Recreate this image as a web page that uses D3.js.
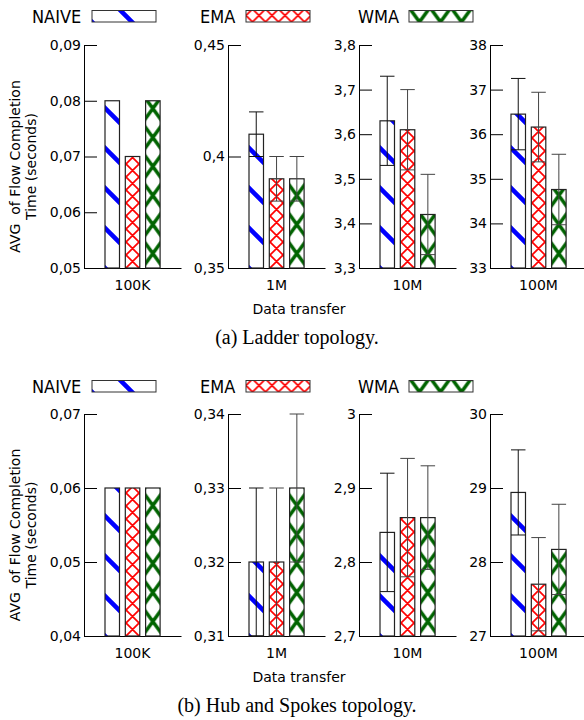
<!DOCTYPE html>
<html>
<head>
<meta charset="utf-8">
<script src="https://cdn.jsdelivr.net/npm/d3@7"></script>
<style>
body { margin: 0; background: #fff; }
svg { display: block; }
</style>
</head>
<body>
<script>
/*--- data ---*/
const categories = ["100K", "1M", "10M", "100M"];
const seriesNames = ["NAIVE", "EMA", "WMA"];

// (a) ladder topology
const ladderNaive = [0.08, 0.41, 3.63, 36.45];
const ladderEma   = [0.07, 0.39, 3.61, 36.16];
const ladderWma   = [0.08, 0.39, 3.42, 34.76];
const ladderNaiveErr = [0, 0.01, 0.10, 0.80];
const ladderEmaErr   = [0, 0.01, 0.09, 0.78];
const ladderWmaErr   = [0, 0.01, 0.09, 0.79];
const ladderTicks = [
  [0.05, 0.06, 0.07, 0.08, 0.09],
  [0.35, 0.4, 0.45],
  [3.3, 3.4, 3.5, 3.6, 3.7, 3.8],
  [33, 34, 35, 36, 37, 38]
];

// (b) hub and spokes topology
const hubNaive = [0.06, 0.32, 2.84, 28.94];
const hubEma   = [0.06, 0.32, 2.86, 27.70];
const hubWma   = [0.06, 0.33, 2.86, 28.17];
const hubNaiveErr = [0, 0.01, 0.08, 0.575];
const hubEmaErr   = [0, 0.01, 0.08, 0.63];
const hubWmaErr   = [0, 0.01, 0.07, 0.61];
const hubTicks = [
  [0.04, 0.05, 0.06, 0.07],
  [0.31, 0.32, 0.33, 0.34],
  [2.7, 2.8, 2.9, 3],
  [27, 28, 29, 30]
];

/*--- layout ---*/
let width = 584, height = 720;
let panelX = [84, 228, 359, 490];
let panelW = 97;
let sansFont = "'DejaVu Sans', sans-serif";

let blocks = [
  { id: "a", top: 45, bottom: 268, legendY: 16,
    vals: [ladderNaive, ladderEma, ladderWma],
    errs: [ladderNaiveErr, ladderEmaErr, ladderWmaErr],
    ticks: ladderTicks, caption: "(a) Ladder topology." },
  { id: "b", top: 414, bottom: 636, legendY: 386,
    vals: [hubNaive, hubEma, hubWma],
    errs: [hubNaiveErr, hubEmaErr, hubWmaErr],
    ticks: hubTicks, caption: "(b) Hub and Spokes topology." }
];

// hatch styles for each series
let hatch = {
  NAIVE: { color: "#0000ff", w: 40, h: 40, sw: 4.5, cross: false },
  EMA:   { color: "#ff0000", w: 13, h: 13, sw: 1.7, cross: true },
  WMA:   { color: "#006400", w: 21, h: 29, sw: 3.5, cross: true }
};

let fmt = d => String(d).replace(".", ",");

let svg = d3.select("body").append("svg")
  .attr("width", width).attr("height", height);
let defs = svg.append("defs");

function makePattern(id, st, x0, y0) {
  let p = defs.append("pattern")
    .attr("id", id)
    .attr("patternUnits", "userSpaceOnUse")
    .attr("x", x0).attr("y", y0)
    .attr("width", st.w).attr("height", st.h);
  p.append("rect").attr("width", st.w).attr("height", st.h).attr("fill", "#fff");
  let d = "";
  let s = st.h / st.w;
  for (let k = -1; k <= 1; k++) {
    // "\" lines
    d += "M" + (-st.w) + "," + (s * (-st.w - k * st.w)) + "L" + (2 * st.w) + "," + (s * (2 * st.w - k * st.w));
    if (st.cross) {
      // "/" lines
      d += "M" + (-st.w) + "," + (st.h - s * (-st.w - k * st.w)) + "L" + (2 * st.w) + "," + (st.h - s * (2 * st.w - k * st.w));
    }
  }
  p.append("path").attr("d", d)
    .attr("stroke", st.color).attr("stroke-width", st.sw).attr("fill", "none");
}

blocks.forEach(function (b) {

  let g = svg.append("g");

  // legend
  let legendTextX = [32, 200, 358];
  let swatchX = [92, 246, 409];
  seriesNames.forEach(function (s, i) {
    g.append("text")
      .attr("x", legendTextX[i]).attr("y", b.legendY)
      .attr("dominant-baseline", "central")
      .attr("font-family", "'DejaVu Sans Condensed', 'DejaVu Sans', sans-serif")
      .attr("font-stretch", "condensed")
      .attr("font-size", 18)
      .text(s);
    let pid = "leg-" + b.id + "-" + s;
    makePattern(pid, hatch[s], swatchX[i] + (s === "NAIVE" ? 0 : -hatch[s].w / 2), b.legendY + 6);
    g.append("rect")
      .attr("x", swatchX[i]).attr("y", b.legendY - 5.5)
      .attr("width", 64).attr("height", 11.5)
      .attr("fill", "url(#" + pid + ")")
      .attr("stroke", "#333").attr("stroke-width", 1);
  });

  categories.forEach(function (cat, ci) {
    let x0 = panelX[ci];
    let tk = b.ticks[ci];

    let Y = d3.scaleLinear()
      .domain([tk[0], tk[tk.length - 1]])
      .range([b.bottom, b.top]);

    let X = d3.scaleBand()
      .domain(seriesNames)
      .range([x0 + 21, x0 + 76.1])
      .paddingInner(0.286);

    let XC = d3.scaleBand().domain([cat]).range([x0, x0 + panelW]);

    // x baseline + category label
    let xa = g.append("g")
      .attr("transform", "translate(0," + b.bottom + ")")
      .call(d3.axisBottom(XC).tickSize(0).tickSizeOuter(0).tickPadding(12));
    xa.selectAll("text").attr("font-family", sansFont).attr("font-size", 14);

    // y axis (ticks inside)
    let ya = g.append("g")
      .attr("transform", "translate(" + x0 + ",0)")
      .call(d3.axisLeft(Y).tickValues(tk).tickFormat(fmt)
        .tickSize(-13).tickSizeOuter(0).tickPadding(3));
    ya.selectAll("text").attr("font-family", sansFont).attr("font-size", 14);

    // bars
    seriesNames.forEach(function (s, si) {
      let v = b.vals[si][ci];
      let e = b.errs[si][ci];
      let bx = X(s), bw = X.bandwidth();
      let pid = "p-" + b.id + "-" + ci + "-" + s;
      let st = hatch[s];
      makePattern(pid, st, s === "NAIVE" ? bx : bx + bw / 2 - st.w / 2, b.bottom);

      g.append("rect")
        .attr("x", bx).attr("y", Y(v))
        .attr("width", bw).attr("height", b.bottom - Y(v))
        .attr("fill", "url(#" + pid + ")")
        .attr("stroke", "#222").attr("stroke-width", 1.2);

      if (e > 0) {
        let cx = bx + bw / 2;
        let eg = g.append("g").attr("stroke", si === 0 ? "#111" : "#444").attr("stroke-width", 1);
        eg.append("line").attr("x1", cx).attr("x2", cx).attr("y1", Y(v + e)).attr("y2", Y(v - e));
        eg.append("line").attr("x1", bx).attr("x2", bx + bw).attr("y1", Y(v + e)).attr("y2", Y(v + e));
        eg.append("line").attr("x1", bx).attr("x2", bx + bw).attr("y1", Y(v - e)).attr("y2", Y(v - e));
      }
    });
  });

  // y axis title
  let mid = (b.top + b.bottom) / 2 + 10;
  let yt = g.append("text")
    .attr("transform", "translate(20," + mid + ") rotate(-90)")
    .attr("text-anchor", "middle")
    .attr("font-family", sansFont).attr("font-size", 14)
    .style("white-space", "pre");
  yt.append("tspan").attr("x", 0).attr("dy", 0).text("AVG  of Flow Completion");
  yt.append("tspan").attr("x", 0).attr("dy", 16).text("Time (seconds)");

  // x title
  g.append("text")
    .attr("x", 299).attr("y", b.bottom + 41)
    .attr("dominant-baseline", "central")
    .attr("text-anchor", "middle")
    .attr("font-family", sansFont).attr("font-size", 14)
    .text("Data transfer");

  // caption
  g.append("text")
    .attr("x", 297).attr("y", b.bottom + 69)
    .attr("dominant-baseline", "central")
    .attr("text-anchor", "middle")
    .attr("font-family", "'Liberation Serif', 'Times New Roman', serif")
    .attr("font-size", 20)
    .text(b.caption);
});
</script>
</body>
</html>
